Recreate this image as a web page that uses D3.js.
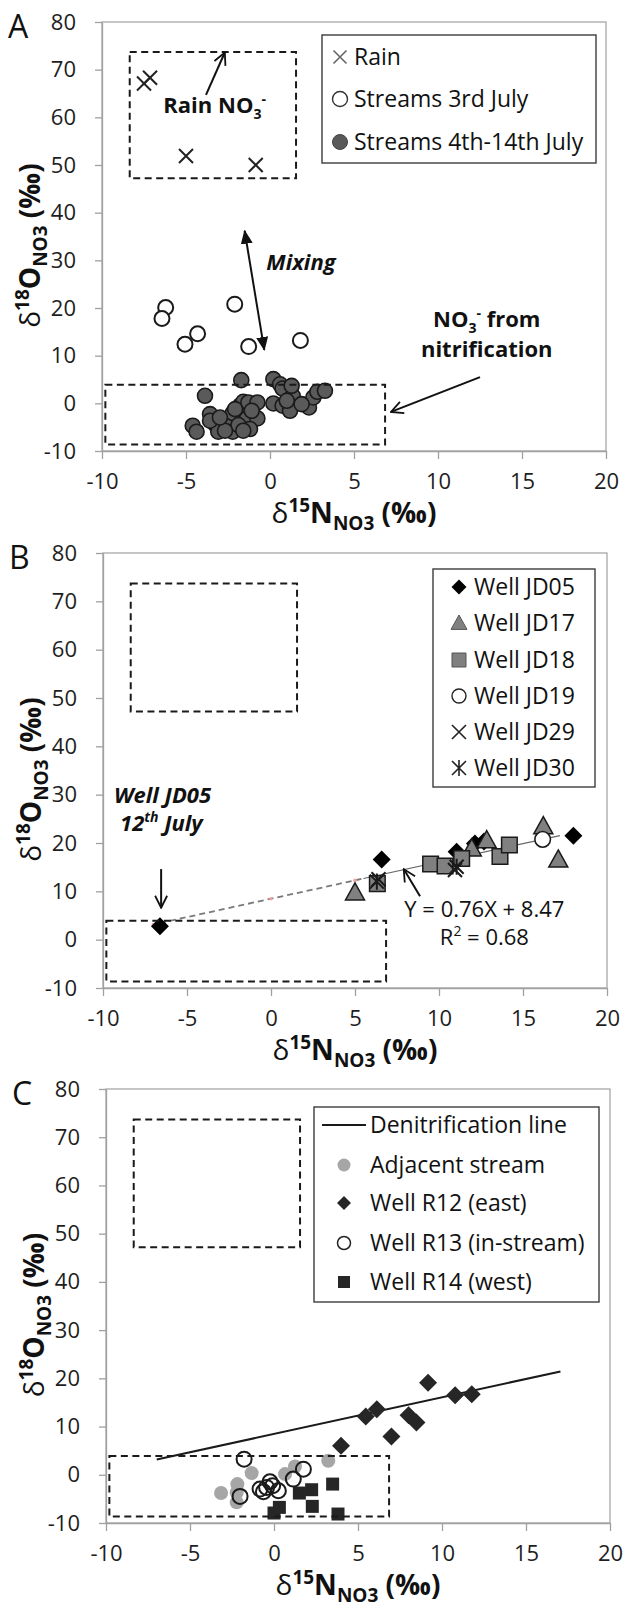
<!DOCTYPE html>
<html>
<head>
<meta charset="utf-8">
<script src="https://cdn.jsdelivr.net/npm/d3@7"></script>
<style>
  body { margin: 0; background: #fff; }
  text { font-family: "Open Sans", sans-serif; }
</style>
</head>
<body>
<div id="chart"></div>
<script>
// ---------- data ----------
const xTicks = [-10, -5, 0, 5, 10, 15, 20];
const yTicks = [-10, 0, 10, 20, 30, 40, 50, 60, 70, 80];

// source boxes, in data units
const rainBox = {x0: -8.35, x1: 1.55, y0: 47.2, y1: 73.7};
const nitBox = {x0: -9.8, x1: 6.85, y0: -8.65, y1: 3.9};

// panel A
const rain = [[-7.5, 67.1], [-7.14, 68.3], [-5.0, 51.9], [-0.85, 50.0]];
const streams3 = [[-6.21, 20.1], [-6.43, 17.8], [-4.31, 14.6], [-5.06, 12.4], [-2.1, 20.8], [-1.27, 11.9], [1.81, 13.2]];
const streams4to14 = [
  [-1.71, 4.86], [-3.87, 1.58], [0.2, 5.07], [0.6, 4.0], [0.75, 3.1], [1.35, 1.58], [0.2, -0.03],
  [0.75, -0.5], [1.19, -1.56], [2.32, -0.86], [2.58, 1.23], [2.82, 2.42], [3.27, 2.63], [-4.6, -4.7],
  [-4.37, -5.96], [-3.57, -2.26], [-3.27, -4.35], [-3.08, -5.96], [-2.48, -3.65], [-2.22, -2.05],
  [-2.22, -5.96], [-1.79, -0.5], [-1.59, 0.32], [-1.29, 0.18], [-0.75, 0.18], [-1.39, -3.3],
  [-0.75, -3.16], [-1.19, -5.4], [-1.88, -4.56], [-2.68, -5.75], [-1.09, -1.56], [-2.08, -1.21],
  [1.0, 0.53], [1.88, -0.17], [1.29, 3.67], [-3.57, -3.65], [-2.98, -2.96], [-1.59, -5.75]
];

// panel B
const jd05 = [[-6.61, 2.8], [6.59, 16.6], [11.05, 18.2], [12.14, 19.9], [12.68, 20.3], [18.0, 21.5]];
const jd17 = [[5.0, 9.8], [11.95, 18.9], [12.84, 20.6], [16.21, 23.5], [17.1, 16.6]];
const jd18 = [[6.33, 11.6], [9.5, 15.65], [10.36, 15.24], [11.35, 16.8], [13.63, 17.2], [14.19, 19.6]];
const jd19 = [[16.17, 20.75]];
const jd29 = [[6.4, 12.5], [10.95, 14.4]];
const jd30 = [[6.3, 12.0], [11.05, 15.1]];
const fitSlope = 0.76, fitIntercept = 8.47;
const fitDashed = [-6.6, 5.5], fitSolid = [5.5, 17.2];
const fitDots = [-7, 0, 5];

// panel C
const adjStream = [[-3.15, -3.79], [-2.18, -1.93], [-2.22, -5.72], [-2.22, -3.66], [-1.33, 0.35], [0.66, 0.14], [1.25, 1.72], [3.23, 2.9]];
const r12 = [[3.99, 6.0], [5.46, 12.06], [6.12, 13.58], [6.99, 7.92], [8.01, 12.34], [8.48, 10.82], [9.17, 19.1], [10.78, 16.48], [11.77, 16.69]];
const r13 = [[-1.78, 3.24], [-2.02, -4.48], [-0.83, -2.96], [-0.63, -3.52], [-0.24, -1.45], [-0.08, -2.28], [0.26, -3.31], [-0.44, -2.62], [1.15, -0.9], [1.75, 1.17]];
const r14 = [[0.0, -7.93], [0.32, -6.76], [1.51, -3.79], [2.24, -3.1], [2.28, -6.55], [3.49, -1.93], [3.81, -8.14]];
const denitRange = [-6.98, 17.05];

const legendA = ["Rain", "Streams 3rd July", "Streams 4th-14th July"];
const legendB = ["Well JD05", "Well JD17", "Well JD18", "Well JD19", "Well JD29", "Well JD30"];
const legendC = ["Denitrification line", "Adjacent stream", "Well R12 (east)", "Well R13 (in-stream)", "Well R14 (west)"];

// ---------- layout ----------
const W = 623, H = 1606;
const panels = [
  {name: "A", left: 102, right: 606, top: 22, bottom: 451},
  {name: "B", left: 103, right: 607, top: 553, bottom: 988},
  {name: "C", left: 106, right: 610, top: 1089, bottom: 1523}
];

const svg = d3.select("#chart").append("svg")
  .attr("width", W).attr("height", H);

const defs = svg.append("defs");
defs.append("marker")
  .attr("id", "openHead").attr("viewBox", "0 0 14 14")
  .attr("refX", 13).attr("refY", 7)
  .attr("markerWidth", 14).attr("markerHeight", 14)
  .attr("markerUnits", "userSpaceOnUse").attr("orient", "auto")
  .append("path").attr("d", "M1,1 L13,7 L1,13")
  .attr("fill", "none").attr("stroke", "#111").attr("stroke-width", 1.8);
defs.append("marker")
  .attr("id", "solidHead").attr("viewBox", "0 0 14 14")
  .attr("refX", 13).attr("refY", 7)
  .attr("markerWidth", 14).attr("markerHeight", 14)
  .attr("markerUnits", "userSpaceOnUse").attr("orient", "auto-start-reverse")
  .append("path").attr("d", "M0,1 L14,7 L0,13 Z").attr("fill", "#111");

// marker shapes centred on 0,0
const shapes = {
  x: s => `M${-s},${-s}L${s},${s}M${-s},${s}L${s},${-s}`,
  star: s => `M${-s},${-s}L${s},${s}M${-s},${s}L${s},${-s}M0,${-s * 1.15}L0,${s * 1.15}`,
  diamond: s => `M0,${-s}L${s},0L0,${s}L${-s},0Z`,
  square: s => `M${-s},${-s}h${2 * s}v${2 * s}h${-2 * s}Z`,
  triangle: s => `M0,${-s}L${s},${s * 0.8}L${-s},${s * 0.8}Z`,
  circle: s => `M${s},0A${s},${s} 0 1,1 ${-s},0A${s},${s} 0 1,1 ${s},0Z`
};

function drawSeries(g, x, y, pts, st) {
  g.append("g").selectAll("path")
    .data(pts)
    .join("path")
    .attr("transform", d => `translate(${x(d[0])},${y(d[1])})`)
    .attr("d", shapes[st.shape](st.size))
    .attr("fill", st.fill || "none")
    .attr("stroke", st.stroke || "none")
    .attr("stroke-width", st.sw || 0);
}

function drawMarker(g, cx, cy, st) {
  g.append("path")
    .attr("transform", `translate(${cx},${cy})`)
    .attr("d", shapes[st.shape](st.size))
    .attr("fill", st.fill || "none")
    .attr("stroke", st.stroke || "none")
    .attr("stroke-width", st.sw || 0);
}

function makePanel(L) {
  const x = d3.scaleLinear().domain([-10, 20]).range([L.left, L.right]);
  const y = d3.scaleLinear().domain([-10, 80]).range([L.bottom, L.top]);
  const g = svg.append("g").attr("class", "panel-" + L.name);

  g.append("rect")
    .attr("x", L.left).attr("y", L.top)
    .attr("width", L.right - L.left).attr("height", L.bottom - L.top)
    .attr("fill", "none").attr("stroke", "#a8a8a8").attr("stroke-width", 1.3);

  const yAxis = g.append("g")
    .attr("transform", `translate(${L.left},0)`)
    .call(d3.axisLeft(y).tickValues(yTicks).tickFormat(d => String(d))
      .tickSize(7).tickSizeOuter(0).tickPadding(19));
  const xAxis = g.append("g")
    .attr("transform", `translate(0,${L.bottom})`)
    .call(d3.axisBottom(x).tickValues(xTicks).tickFormat(d => String(d))
      .tickSize(8).tickSizeOuter(0).tickPadding(14));
  [yAxis, xAxis].forEach(a => {
    a.select(".domain").attr("stroke", "#a0a0a0").attr("stroke-width", 1.3);
    a.selectAll(".tick line").attr("stroke", "#a0a0a0").attr("stroke-width", 1.3);
    a.selectAll(".tick text")
      .attr("font-size", 22).attr("font-family", "Open Sans").attr("fill", "#1e1e1e");
  });

  // panel letter
  g.append("text").attr("x", L.left - 94).attr("y", L.top + 16)
    .attr("font-size", 32).attr("fill", "#111").text(L.name);

  // axis titles
  const cy = (L.top + L.bottom) / 2 + 9;
  isoTitle(g, "18", "O", L.left - 62, cy, true);
  isoTitle(g, "15", "N", (L.left + L.right) / 2, L.bottom + 72, false);

  return {g, x, y};
}

function isoTitle(g, iso, el, px, py, rotate) {
  const t = g.append("text")
    .attr("text-anchor", "middle")
    .attr("font-size", 28).attr("font-weight", "bold").attr("fill", "#111")
    .attr("transform", `translate(${px},${py})` + (rotate ? " rotate(-90)" : ""));
  t.append("tspan").attr("font-weight", "normal").text("δ");
  t.append("tspan").attr("font-size", 19).attr("dy", -11).text(iso);
  t.append("tspan").attr("dy", 11).text(el);
  t.append("tspan").attr("font-size", 19).attr("dy", 7).text("NO3");
  t.append("tspan").attr("dy", -7).text(" (‰)");
}

function drawBoxes(g, x, y) {
  [rainBox, nitBox].forEach(b => {
    g.append("rect")
      .attr("x", x(b.x0)).attr("y", y(b.y1))
      .attr("width", x(b.x1) - x(b.x0)).attr("height", y(b.y0) - y(b.y1))
      .attr("fill", "none").attr("stroke", "#1a1a1a")
      .attr("stroke-width", 2).attr("stroke-dasharray", "7,4.5");
  });
}

function arrow(g, x, y, a, b, head, both) {
  const l = g.append("line")
    .attr("x1", x(a[0])).attr("y1", y(a[1]))
    .attr("x2", x(b[0])).attr("y2", y(b[1]))
    .attr("stroke", "#111").attr("stroke-width", 2)
    .attr("marker-end", `url(#${head})`);
  if (both) l.attr("marker-start", `url(#${head})`);
}

function legendBox(g, L) {
  g.append("rect")
    .attr("x", L.x0).attr("y", L.y0)
    .attr("width", L.x1 - L.x0).attr("height", L.y1 - L.y0)
    .attr("fill", "#fff").attr("stroke", "#3c3c3c").attr("stroke-width", 1.4);
}

function legendText(g, tx, ty, label) {
  g.append("text").attr("x", tx).attr("y", ty).attr("dy", "0.36em")
    .attr("font-size", 23).attr("fill", "#111").text(label);
}

// ---------- panel A ----------
{
  const {g, x, y} = makePanel(panels[0]);
  drawSeries(g, x, y, rain, {shape: "x", size: 7, stroke: "#222", sw: 2});
  drawSeries(g, x, y, streams3, {shape: "circle", size: 7.5, fill: "#fff", stroke: "#1a1a1a", sw: 2});
  drawSeries(g, x, y, streams4to14, {shape: "circle", size: 7.5, fill: "#5a5a5a", stroke: "#1a1a1a", sw: 1.6});
  drawBoxes(g, x, y);

  arrow(g, x, y, [-3.81, 64.7], [-2.69, 73.6], "openHead");
  arrow(g, x, y, [-1.51, 36.2], [-0.34, 11.2], "solidHead", true);
  arrow(g, x, y, [12.5, 5.5], [7.2, -1.8], "openHead");

  const t1 = g.append("text").attr("x", x(-6.35)).attr("y", y(61.0))
    .attr("font-size", 22).attr("font-weight", "bold").attr("fill", "#111");
  t1.append("tspan").text("Rain NO");
  t1.append("tspan").attr("font-size", 14).attr("dy", 6).text("3");
  t1.append("tspan").attr("font-size", 14).attr("dy", -15).text("-");

  g.append("text").attr("x", x(-0.22)).attr("y", y(28.0))
    .attr("font-size", 22).attr("font-weight", "bold").attr("font-style", "italic")
    .attr("fill", "#111").text("Mixing");

  const t2 = g.append("text").attr("x", x(12.9)).attr("y", y(16.0))
    .attr("text-anchor", "middle")
    .attr("font-size", 22).attr("font-weight", "bold").attr("fill", "#111");
  t2.append("tspan").text("NO");
  t2.append("tspan").attr("font-size", 14).attr("dy", 6).text("3");
  t2.append("tspan").attr("font-size", 14).attr("dy", -15).text("-");
  t2.append("tspan").attr("dy", 9).text(" from");
  g.append("text").attr("x", x(12.9)).attr("y", y(9.8))
    .attr("text-anchor", "middle")
    .attr("font-size", 22).attr("font-weight", "bold").attr("fill", "#111")
    .text("nitrification");

  const lg = {x0: 322, x1: 596, y0: 35, y1: 163, mx: 340, tx: 354, rows: [57, 99, 142]};
  legendBox(g, lg);
  const legStyles = [
    {shape: "x", size: 6.5, stroke: "#666", sw: 1.6},
    {shape: "circle", size: 7.5, fill: "#fff", stroke: "#333", sw: 1.4},
    {shape: "circle", size: 7.5, fill: "#595959", stroke: "#444", sw: 1}
  ];
  legendA.forEach((lab, i) => {
    drawMarker(g, lg.mx, lg.rows[i], legStyles[i]);
    legendText(g, lg.tx, lg.rows[i], lab);
  });
}

// ---------- panel B ----------
{
  const {g, x, y} = makePanel(panels[1]);
  const fit = v => fitSlope * v + fitIntercept;

  g.append("line")
    .attr("x1", x(fitDashed[0])).attr("y1", y(fit(fitDashed[0])))
    .attr("x2", x(fitDashed[1])).attr("y2", y(fit(fitDashed[1])))
    .attr("stroke", "#7a7a7a").attr("stroke-width", 1.8).attr("stroke-dasharray", "6,4");
  g.append("line")
    .attr("x1", x(fitSolid[0])).attr("y1", y(fit(fitSolid[0])))
    .attr("x2", x(fitSolid[1])).attr("y2", y(fit(fitSolid[1])))
    .attr("stroke", "#666").attr("stroke-width", 1.2);
  g.append("g").selectAll("circle").data(fitDots).join("circle")
    .attr("cx", d => x(d)).attr("cy", d => y(fit(d))).attr("r", 1.8)
    .attr("fill", "#f2a0a0");

  drawSeries(g, x, y, jd05, {shape: "diamond", size: 9, fill: "#000"});
  drawSeries(g, x, y, jd17, {shape: "triangle", size: 9.5, fill: "#808080", stroke: "#1a1a1a", sw: 1.5});
  drawSeries(g, x, y, jd18, {shape: "square", size: 7.8, fill: "#808080", stroke: "#1a1a1a", sw: 1.5});
  drawSeries(g, x, y, jd19, {shape: "circle", size: 7.8, fill: "#fff", stroke: "#1a1a1a", sw: 1.6});
  drawSeries(g, x, y, jd29, {shape: "x", size: 7, stroke: "#1a1a1a", sw: 2});
  drawSeries(g, x, y, jd30, {shape: "star", size: 7, stroke: "#1a1a1a", sw: 2});
  drawBoxes(g, x, y);

  g.append("text").attr("x", x(-6.46)).attr("y", y(28.3)).attr("text-anchor", "middle")
    .attr("font-size", 22).attr("font-weight", "bold").attr("font-style", "italic")
    .attr("fill", "#111").text("Well JD05");
  const t3 = g.append("text").attr("x", x(-6.52)).attr("y", y(22.5)).attr("text-anchor", "middle")
    .attr("font-size", 22).attr("font-weight", "bold").attr("font-style", "italic").attr("fill", "#111");
  t3.append("tspan").text("12");
  t3.append("tspan").attr("font-size", 14).attr("dy", -9).text("th");
  t3.append("tspan").attr("dy", 9).text(" July");

  arrow(g, x, y, [-6.54, 14.6], [-6.54, 6.6], "openHead");
  arrow(g, x, y, [8.87, 9.0], [7.9, 14.6], "openHead");

  g.append("text").attr("x", x(12.7)).attr("y", y(4.6)).attr("text-anchor", "middle")
    .attr("font-size", 22).attr("fill", "#111").text("Y = 0.76X + 8.47");
  const t4 = g.append("text").attr("x", x(12.7)).attr("y", y(-1.1)).attr("text-anchor", "middle")
    .attr("font-size", 22).attr("fill", "#111");
  t4.append("tspan").text("R");
  t4.append("tspan").attr("font-size", 14).attr("dy", -9).text("2");
  t4.append("tspan").attr("dy", 9).text(" = 0.68");

  const lg = {x0: 433, x1: 595, y0: 569, y1: 787, mx: 459, tx: 474, rows: [587, 623, 660, 696, 732, 768]};
  legendBox(g, lg);
  const legStyles = [
    {shape: "diamond", size: 7.5, fill: "#000"},
    {shape: "triangle", size: 8, fill: "#808080", stroke: "#555", sw: 1},
    {shape: "square", size: 7, fill: "#808080", stroke: "#555", sw: 1},
    {shape: "circle", size: 7, fill: "#fff", stroke: "#222", sw: 1.4},
    {shape: "x", size: 7, stroke: "#222", sw: 1.6},
    {shape: "star", size: 7, stroke: "#222", sw: 1.6}
  ];
  legendB.forEach((lab, i) => {
    drawMarker(g, lg.mx, lg.rows[i], legStyles[i]);
    legendText(g, lg.tx, lg.rows[i], lab);
  });
}

// ---------- panel C ----------
{
  const {g, x, y} = makePanel(panels[2]);
  const fit = v => fitSlope * v + fitIntercept;

  g.append("line")
    .attr("x1", x(denitRange[0])).attr("y1", y(fit(denitRange[0])))
    .attr("x2", x(denitRange[1])).attr("y2", y(fit(denitRange[1])))
    .attr("stroke", "#1a1a1a").attr("stroke-width", 2);

  drawSeries(g, x, y, adjStream, {shape: "circle", size: 7, fill: "#a6a6a6"});
  drawSeries(g, x, y, r12, {shape: "diamond", size: 9, fill: "#262626"});
  drawSeries(g, x, y, r13, {shape: "circle", size: 7.5, stroke: "#1a1a1a", sw: 2});
  drawSeries(g, x, y, r14, {shape: "square", size: 6.5, fill: "#262626"});
  drawBoxes(g, x, y);

  const lg = {x0: 314, x1: 599, y0: 1107, y1: 1302, lx0: 322, lx1: 366, mx: 344, tx: 370,
    rows: [1125, 1165, 1203, 1243, 1282]};
  legendBox(g, lg);
  g.append("line").attr("x1", lg.lx0).attr("x2", lg.lx1)
    .attr("y1", lg.rows[0]).attr("y2", lg.rows[0])
    .attr("stroke", "#1a1a1a").attr("stroke-width", 2);
  const legStyles = [
    null,
    {shape: "circle", size: 6.5, fill: "#a6a6a6"},
    {shape: "diamond", size: 7, fill: "#262626"},
    {shape: "circle", size: 6.5, stroke: "#222", sw: 1.5},
    {shape: "square", size: 6, fill: "#262626"}
  ];
  legendC.forEach((lab, i) => {
    if (legStyles[i]) drawMarker(g, lg.mx, lg.rows[i], legStyles[i]);
    legendText(g, lg.tx, lg.rows[i], lab);
  });
}
</script>
</body>
</html>
